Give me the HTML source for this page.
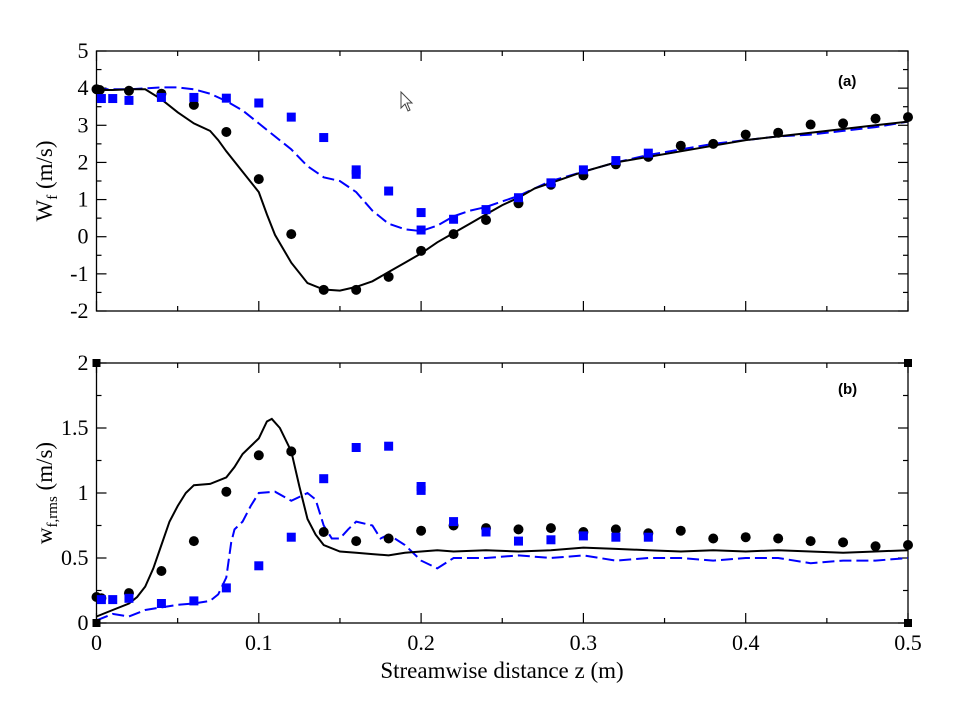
<!DOCTYPE html>
<html><head><meta charset="utf-8"><style>
body{margin:0;background:#fff}
svg{display:block}
text{font-family:"Liberation Serif",serif;fill:#000}
</style></head><body>
<svg id="chart" width="970" height="714" xmlns="http://www.w3.org/2000/svg"></svg>
<script>
const xTicks=[0,0.1,0.2,0.3,0.4,0.5];
const xTickLabels=["0","0.1","0.2","0.3","0.4","0.5"];
const aTicks=[-2,-1,0,1,2,3,4,5];
const bTicks=[0,0.5,1,1.5,2];
const bTickLabels=["0","0.5","1","1.5","2"];
const aLineZ=[0,0.01,0.02,0.03,0.04,0.05,0.06,0.07,0.075,0.08,0.09,0.1,0.105,0.11,0.12,0.13,0.14,0.15,0.16,0.17,0.18,0.19,0.2,0.21,0.22,0.23,0.24,0.25,0.26,0.27,0.28,0.29,0.3,0.32,0.34,0.36,0.38,0.4,0.42,0.44,0.46,0.48,0.5];
const aLineW=[3.95,3.95,3.97,3.97,3.7,3.35,3.05,2.85,2.6,2.3,1.75,1.2,0.6,0.05,-0.7,-1.25,-1.42,-1.45,-1.35,-1.2,-0.95,-0.7,-0.45,-0.15,0.1,0.35,0.6,0.85,1.05,1.3,1.45,1.6,1.75,2.0,2.15,2.3,2.45,2.6,2.7,2.8,2.9,3.0,3.1];
const aDashZ=[0,0.02,0.04,0.05,0.06,0.07,0.08,0.09,0.1,0.11,0.12,0.13,0.14,0.15,0.16,0.17,0.18,0.19,0.2,0.21,0.22,0.23,0.24,0.25,0.26,0.27,0.28,0.3,0.32,0.34,0.36,0.38,0.4,0.42,0.44,0.46,0.48,0.5];
const aDashW=[3.97,3.97,4.02,4.02,3.97,3.85,3.65,3.4,3.05,2.7,2.35,1.9,1.6,1.5,1.2,0.7,0.35,0.2,0.15,0.3,0.55,0.7,0.8,0.95,1.1,1.3,1.5,1.75,2.0,2.2,2.35,2.5,2.6,2.7,2.75,2.85,2.95,3.1];
const aDotZ=[0,0.002,0.02,0.04,0.06,0.08,0.1,0.12,0.14,0.16,0.18,0.2,0.22,0.24,0.26,0.28,0.3,0.32,0.34,0.36,0.38,0.4,0.42,0.44,0.46,0.48,0.5];
const aDotW=[3.97,3.95,3.93,3.85,3.55,2.82,1.55,0.07,-1.43,-1.43,-1.08,-0.38,0.07,0.45,0.9,1.4,1.65,1.95,2.15,2.45,2.5,2.75,2.8,3.02,3.05,3.18,3.22];
const aSqZ=[0.003,0.01,0.02,0.04,0.06,0.08,0.1,0.12,0.14,0.16,0.16,0.18,0.2,0.2,0.22,0.24,0.26,0.28,0.3,0.32,0.34];
const aSqW=[3.72,3.72,3.67,3.75,3.75,3.73,3.6,3.22,2.67,1.8,1.68,1.23,0.65,0.18,0.47,0.73,1.05,1.45,1.8,2.05,2.25];
const bLineZ=[0,0.01,0.02,0.025,0.03,0.035,0.04,0.045,0.05,0.055,0.06,0.07,0.08,0.085,0.09,0.1,0.105,0.108,0.113,0.12,0.125,0.13,0.135,0.14,0.15,0.16,0.17,0.18,0.19,0.2,0.21,0.22,0.24,0.26,0.28,0.3,0.32,0.34,0.36,0.38,0.4,0.42,0.44,0.46,0.48,0.5];
const bLineW=[0.05,0.1,0.15,0.2,0.28,0.42,0.6,0.78,0.9,1.0,1.06,1.07,1.12,1.2,1.3,1.42,1.55,1.57,1.5,1.32,1.05,0.8,0.68,0.6,0.55,0.54,0.53,0.52,0.54,0.55,0.56,0.55,0.56,0.55,0.56,0.58,0.57,0.56,0.55,0.56,0.55,0.56,0.55,0.54,0.55,0.56];
const bDashZ=[0,0.01,0.02,0.03,0.04,0.05,0.06,0.07,0.075,0.08,0.083,0.085,0.09,0.095,0.1,0.11,0.12,0.13,0.135,0.14,0.145,0.15,0.155,0.16,0.17,0.175,0.18,0.19,0.2,0.21,0.22,0.24,0.26,0.28,0.3,0.32,0.34,0.36,0.38,0.4,0.42,0.44,0.46,0.48,0.5];
const bDashW=[0.02,0.07,0.05,0.1,0.12,0.14,0.15,0.17,0.22,0.35,0.62,0.72,0.78,0.9,1.0,1.01,0.94,1.0,0.95,0.75,0.65,0.65,0.72,0.78,0.75,0.65,0.68,0.6,0.48,0.42,0.5,0.5,0.52,0.5,0.52,0.48,0.5,0.5,0.48,0.5,0.5,0.46,0.48,0.48,0.5];
const bDotZ=[0,0.003,0.02,0.04,0.06,0.08,0.1,0.12,0.14,0.16,0.18,0.2,0.22,0.24,0.26,0.28,0.3,0.32,0.34,0.36,0.38,0.4,0.42,0.44,0.46,0.48,0.5];
const bDotW=[0.2,0.19,0.23,0.4,0.63,1.01,1.29,1.32,0.7,0.63,0.65,0.71,0.75,0.73,0.72,0.73,0.7,0.72,0.69,0.71,0.65,0.66,0.65,0.63,0.62,0.59,0.6];
const bSqZ=[0.003,0.01,0.02,0.04,0.06,0.08,0.1,0.12,0.14,0.16,0.18,0.2,0.2,0.22,0.24,0.26,0.28,0.3,0.32,0.34];
const bSqW=[0.18,0.18,0.19,0.15,0.17,0.27,0.44,0.66,1.11,1.35,1.36,1.05,1.02,0.78,0.7,0.63,0.64,0.67,0.66,0.66];

const NS="http://www.w3.org/2000/svg";
const svg=document.getElementById('chart');
function mk(tag,attrs,parent){const e=document.createElementNS(NS,tag);for(const k in attrs)e.setAttribute(k,attrs[k]);(parent||svg).appendChild(e);return e;}
const L=96.5,R=908;
const x=z=>L+(z/0.5)*(R-L);
const yA=v=>51+(5-v)/7*260;
const yB=v=>363+(2-v)/2*260;

function panel(name,top,bot,y,ticks,minorStep,vmin,vmax,labels){
  const g=mk('g',{});
  
  
  const f=mk('rect',{x:L,y:top,width:R-L,height:bot-top,fill:'none',stroke:'#000','stroke-width':1.3},g);
  
  
  for(let z=0;z<=0.5001;z+=0.05){
    const maj=Math.abs(z*10-Math.round(z*10))<1e-6;const len=maj?10:5;
    mk('line',{x1:x(z),x2:x(z),y1:bot,y2:bot-len,stroke:'#000','stroke-width':1.2},g);
    mk('line',{x1:x(z),x2:x(z),y1:top,y2:top+len,stroke:'#000','stroke-width':1.2},g);
  }
  for(let v=vmin;v<=vmax+1e-6;v+=minorStep){
    const maj=ticks.some(t=>Math.abs(t-v)<1e-6);const len=maj?10:5;
    mk('line',{x1:L,x2:L+len,y1:y(v),y2:y(v),stroke:'#000','stroke-width':1.2},g);
    mk('line',{x1:R,x2:R-len,y1:y(v),y2:y(v),stroke:'#000','stroke-width':1.2},g);
  }
  ticks.forEach((t,i)=>{
    const tx=mk('text',{x:L-8,y:y(t)+7,'font-size':22,'text-anchor':'end'},g);
    tx.textContent=labels?labels[i]:String(t);
    
    
  });
  return g;
}
function line(zs,ws,y,color,dash,name){
  const d=zs.map((z,i)=>(i?'L':'M')+x(z).toFixed(1)+','+y(ws[i]).toFixed(1)).join('');
  const p=mk('path',{d:d,fill:'none',stroke:color,'stroke-width':2,'stroke-dasharray':dash||'none'});
  
  
}
function dots(zs,ws,y,name){zs.forEach((z,i)=>{const c=mk('circle',{cx:x(z),cy:y(ws[i]),r:5,fill:'#000'});
  
  });}
function squares(zs,ws,y,name){zs.forEach((z,i)=>{const c=mk('rect',{x:x(z)-4.5,y:y(ws[i])-4.5,width:9,height:9,fill:'#0000ff'});
  
  });}

panel('panel-a',51,311,yA,aTicks,0.5,-2,5);
line(aDashZ,aDashW,yA,'#0000ff','12,5','series-a-dashed');
line(aLineZ,aLineW,yA,'#000','','series-a-solid');
dots(aDotZ,aDotW,yA,'point-a-circle');
squares(aSqZ,aSqW,yA,'point-a-square');

panel('panel-b',363,623,yB,bTicks,0.25,0,2,bTickLabels);
line(bDashZ,bDashW,yB,'#0000ff','12,5','series-b-dashed');
line(bLineZ,bLineW,yB,'#000','','series-b-solid');
dots(bDotZ,bDotW,yB,'point-b-circle');
squares(bSqZ,bSqW,yB,'point-b-square');
[[L,363],[R,363],[L,623],[R,623]].forEach(p=>{const c=mk('rect',{x:p[0]-4,y:p[1]-4,width:8,height:8,fill:'#000'});
  
  });

xTicks.forEach((t,i)=>{const tx=mk('text',{x:x(t),y:650,'font-size':22,'text-anchor':'middle'});tx.textContent=xTickLabels[i];
  
  });
let t=mk('text',{x:502,y:678,'font-size':23,'text-anchor':'middle'});t.textContent='Streamwise distance z (m)';


t=mk('text',{transform:'translate(52,181) rotate(-90)','font-size':23,'text-anchor':'middle'});
t.innerHTML='W<tspan font-size="15" dy="5">f</tspan><tspan dy="-5"> (m/s)</tspan>';


t=mk('text',{transform:'translate(52,493) rotate(-90)','font-size':23,'text-anchor':'middle'});
t.innerHTML='w<tspan font-size="15" dy="5">f,rms</tspan><tspan dy="-5"> (m/s)</tspan>';


t=mk('text',{x:838,y:86,'font-size':15,'font-weight':'bold',style:'font-family:"Liberation Sans",sans-serif'});t.textContent='(a)';


t=mk('text',{x:838,y:394,'font-size':15,'font-weight':'bold',style:'font-family:"Liberation Sans",sans-serif'});t.textContent='(b)';


const cur=mk('path',{d:'M401,92 L401,108 L405,104 L408,111 L410,110 L407,103 L412,103 Z',fill:'#fff',stroke:'#444','stroke-width':1});


</script>
</body></html>
